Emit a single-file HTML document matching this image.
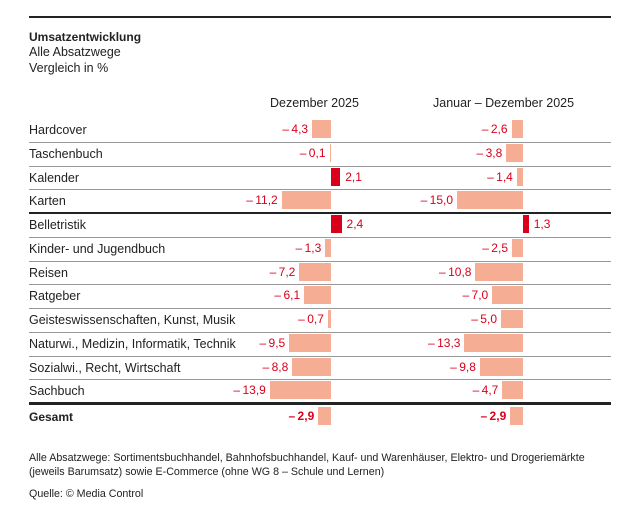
<!DOCTYPE html>
<html><head><meta charset="utf-8"><style>
*{margin:0;padding:0;box-sizing:border-box}
body{width:630px;height:508px;background:#fff;position:relative;font-family:"Liberation Sans",sans-serif;color:#222;overflow:hidden}
div{position:absolute}
.t{font-size:12.5px;line-height:14px;white-space:nowrap}
.v{font-size:12px;color:#d9001b;white-space:nowrap;line-height:14px}
.n{background:#f5ad94}
.p{background:#d9001b}
.sep{left:29px;width:582px;height:1px;background:#999}
.thk{left:29px;width:582px;height:2px;background:#222}
</style></head><body>
<div style="left:29px;top:16px;width:582px;height:2px;background:#222"></div>
<div class="t" style="left:29px;top:30px;font-weight:bold;font-size:12px">Umsatzentwicklung</div>
<div class="t" style="left:29px;top:45px">Alle Absatzwege</div>
<div class="t" style="left:29px;top:61px">Vergleich in %</div>
<div class="t" style="left:270px;top:96px">Dezember 2025</div>
<div class="t" style="left:433px;top:96px">Januar – Dezember 2025</div>
<div id="rows"></div>
<div class="t" style="left:29px;top:451px;font-size:10.7px;line-height:14px;white-space:nowrap">Alle Absatzwege: Sortimentsbuchhandel, Bahnhofsbuchhandel, Kauf- und Warenhäuser, Elektro- und Drogeriemärkte<br>(jeweils Barumsatz) sowie E-Commerce (ohne WG 8 – Schule und Lernen)</div>
<div class="t" style="left:29px;top:487px;font-size:10.7px">Quelle: © Media Control</div>
<script>
var d=[["Hardcover",-4.3,-2.6],["Taschenbuch",-0.1,-3.8],["Kalender",2.1,-1.4],["Karten",-11.2,-15.0],["Belletristik",2.4,1.3],["Kinder- und Jugendbuch",-1.3,-2.5],["Reisen",-7.2,-10.8],["Ratgeber",-6.1,-7.0],["Geisteswissenschaften, Kunst, Musik",-0.7,-5.0],["Naturwi., Medizin, Informatik, Technik",-9.5,-13.3],["Sozialwi., Recht, Wirtschaft",-8.8,-9.8],["Sachbuch",-13.9,-4.7]];
var h="",s=4.4;
function bar(z,v,top,b){var w=Math.max(1.5,Math.abs(v)*s),txt=(v<0?"–\u2009":"")+Math.abs(v).toFixed(1).replace(".",",");
var st=b?"font-weight:bold;":"";
if(v<0){h+='<div class="n" style="left:'+(z-w)+'px;top:'+top+'px;width:'+w+'px;height:18px"></div>';
h+='<div class="v" style="'+st+'right:'+(630-(z-w)+4)+'px;top:'+(top+2)+'px">'+txt+'</div>';}
else{h+='<div class="p" style="left:'+z+'px;top:'+top+'px;width:'+w+'px;height:18px"></div>';
h+='<div class="v" style="'+st+'left:'+(z+w+5)+'px;top:'+(top+2)+'px">'+txt+'</div>';}}
for(var i=0;i<d.length;i++){var y=118+i*23.75;
h+='<div class="t" style="left:29px;top:'+(y+5)+'px">'+d[i][0]+'</div>';
bar(331,d[i][1],y+2);bar(523,d[i][2],y+2);
var sy=y+23.75;
if(i==3)h+='<div class="thk" style="top:'+(sy-1)+'px"></div>';
else if(i==11)h+='<div class="thk" style="top:'+(sy-1)+'px;height:3px"></div>';
else h+='<div class="sep" style="top:'+sy+'px"></div>';}
h+='<div class="t" style="left:29px;top:410px;font-weight:bold;font-size:12px">Gesamt</div>';
bar(331,-2.9,407,1);bar(523,-2.9,407,1);
document.getElementById("rows").outerHTML=h;
</script>
</body></html>
